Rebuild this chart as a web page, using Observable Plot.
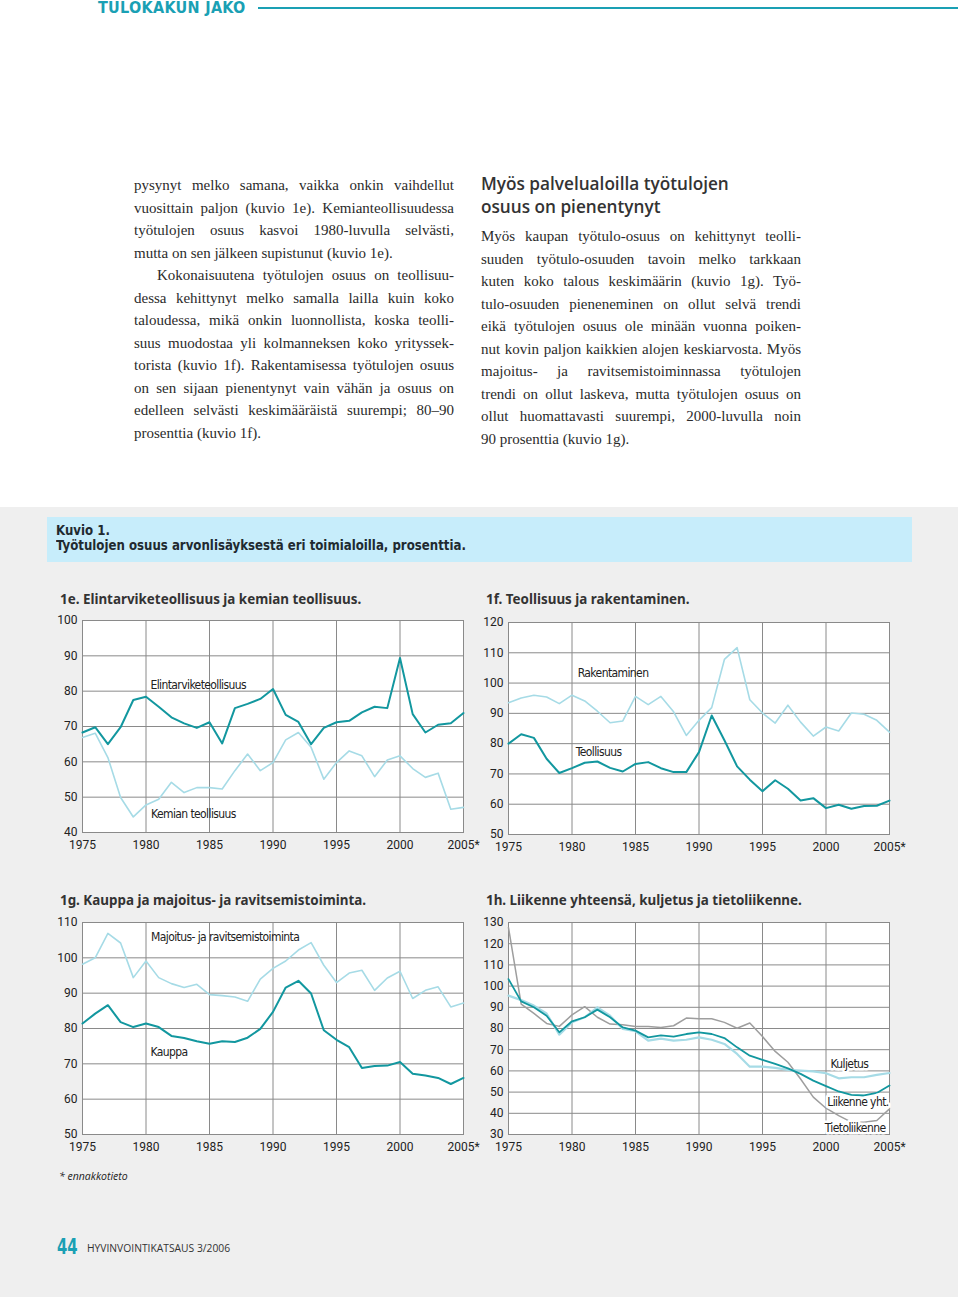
<!DOCTYPE html>
<html>
<head>
<meta charset="utf-8">
<script src="https://cdn.jsdelivr.net/npm/d3@7"></script>
<script src="https://cdn.jsdelivr.net/npm/@observablehq/plot@0.6"></script>
<style>
  html, body { margin: 0; padding: 0; background: #ffffff; }
  body { width: 960px; height: 1297px; position: relative; overflow: hidden; }
  .abs { position: absolute; }
  .cond { font-family: "Liberation Sans Narrow", "DejaVu Sans Condensed", "Roboto Condensed", Roboto, sans-serif; font-stretch: condensed; }
  .serif { font-family: "Liberation Serif", "DejaVu Serif", serif; font-size: 15px; color: #2b2b2b; }
  .ln { position: absolute; width: 320px; height: 22.5px; line-height: 22.5px; white-space: nowrap; }
  .j { text-align: justify; text-align-last: justify; }
  .ctitle { font-family: "Noto Sans", "Open Sans", sans-serif; font-weight: 700; font-size: 13.4px; color: #333; white-space: nowrap; }
  svg g[aria-label="text"] text { letter-spacing: -0.6px; }
</style>
</head>
<body>
<div id="page"></div>
<script>
// ---------- DATA ----------
const years = d3.range(1975, 2006);
const xTicks = [1975, 1980, 1985, 1990, 1995, 2000, 2005];

// 1e
const elintarvike = [68.3,69.8,65.0,69.8,77.5,78.4,75.6,72.6,70.9,69.6,71.2,65.2,75.2,76.4,77.8,80.6,73.3,71.3,65.0,69.6,71.2,71.6,74.0,75.6,75.2,89.4,73.5,68.3,70.5,70.9,73.8];
const kemia = [66.9,68.1,61.2,49.9,44.4,47.8,49.4,54.2,51.3,52.7,52.7,52.3,57.5,62.2,57.5,59.8,66.2,68.3,64.1,55.1,59.8,63.1,61.7,55.8,60.5,61.7,58.1,55.6,56.8,46.6,47.1];
const yTicks1e = [40, 50, 60, 70, 80, 90, 100];

// 1f
const rakentaminen = [93.5,95.1,96.0,95.4,93.2,96.0,94.1,90.7,86.9,87.5,95.6,92.9,95.6,90.5,82.7,87.7,91.9,107.8,111.7,94.5,90.1,86.8,92.7,87.1,82.5,85.5,84.2,90.1,89.7,87.7,83.8];
const teollisuus = [80.0,83.1,81.9,75.0,70.3,71.9,73.7,74.1,72.0,70.8,73.3,73.9,71.9,70.6,70.6,77.2,89.3,81.1,72.5,68.1,64.3,67.9,65.1,61.2,62.0,58.7,59.8,58.5,59.4,59.5,61.2];
const yTicks1f = [50, 60, 70, 80, 90, 100, 110, 120];

// 1g
const majoitus = [98.2,100.0,106.9,104.2,94.4,99.1,94.4,92.7,91.6,92.5,89.6,89.3,88.9,87.7,94.0,97.0,99.1,102.2,104.3,97.9,93.0,95.7,96.5,90.8,94.3,96.2,88.5,90.8,91.8,86.1,87.2];
const kauppa = [81.4,84.2,86.6,81.8,80.4,81.4,80.4,77.9,77.3,76.4,75.7,76.4,76.2,77.4,79.9,84.7,91.6,93.5,89.9,79.5,76.8,74.7,68.8,69.4,69.5,70.5,67.2,66.7,66.0,64.3,66.0];
const yTicks1g = [50, 60, 70, 80, 90, 100, 110];

// 1h
const tietoliikenne = [127.6,91.5,87.1,82.4,81.0,86.4,90.3,85.3,82.1,81.8,80.9,81.0,80.5,81.3,84.9,84.6,84.6,82.9,80.1,82.6,76.2,69.2,64.1,56.2,47.6,42.4,38.9,35.8,35.8,36.6,42.1];
const liikenneYht = [103.3,92.8,90.0,86.0,78.2,83.4,85.3,88.9,85.3,80.5,79.0,75.8,76.8,76.2,77.4,78.2,77.4,75.5,71.1,67.2,65.2,63.3,61.2,58.6,55.4,52.8,50.3,48.7,48.4,49.6,53.1];
const kuljetus = [95.5,93.4,90.8,87.1,77.1,82.9,85.3,90.0,86.0,79.8,78.7,74.3,75.2,74.3,74.7,75.8,74.7,72.7,68.0,62.0,62.0,61.4,60.5,60.1,59.8,58.9,56.5,57.0,57.0,58.1,59.0];
const yTicks1h = [30, 40, 50, 60, 70, 80, 90, 100, 110, 120, 130];

// line labels (anchored in data space)
const labels1e = [{year: 1980.35, value: 81.6, text: "Elintarviketeollisuus"}, {year: 1980.4, value: 45.1, text: "Kemian teollisuus"}];
const labels1f = [{year: 1980.45, value: 103.2, text: "Rakentaminen"}, {year: 1980.3, value: 77.1, text: "Teollisuus"}];
const labels1g = [{year: 1980.4, value: 105.75, text: "Majoitus- ja ravitsemistoiminta"}, {year: 1980.35, value: 73.2, text: "Kauppa"}];
const labels1h = [{year: 2000.35, value: 63.0, text: "Kuljetus"}, {year: 2000.1, value: 45.1, text: "Liikenne yht."}, {year: 1999.9, value: 32.8, text: "Tietoliikenne"}];

const DARK = "#12979f";
const LIGHT = "#a6dbe6";
const GREY = "#9e9e9e";
const GRID = "#8a8a8a";
const condFont = '"Liberation Sans Narrow", "DejaVu Sans Condensed", "Roboto Condensed", Roboto, sans-serif';

function makeChart(series, yDomain, yTicks, labels, haloLabels) {
  const marks = [
    Plot.frame({fill: "white", stroke: null}),
    Plot.gridX(xTicks, {stroke: GRID, strokeOpacity: 1, strokeWidth: 1}),
    Plot.gridY(yTicks, {stroke: GRID, strokeOpacity: 1, strokeWidth: 1}),
    Plot.frame({stroke: GRID, strokeWidth: 1}),
    Plot.axisX(xTicks, {tickSize: 0, tickPadding: 8, fontSize: 12, fill: "#222", fontFamily: "Roboto, sans-serif",
      tickFormat: d => d === 2005 ? "2005*" : String(d), label: null}),
    Plot.axisY(yTicks, {tickSize: 0, tickPadding: 5, fontSize: 12, fill: "#222", fontFamily: "Roboto, sans-serif", label: null})
  ];
  for (const s of series) {
    const rows = s.values.map((v, i) => ({year: years[i], value: v}));
    marks.push(Plot.line(rows, {x: "year", y: "value", stroke: s.color, strokeWidth: s.width, strokeLinejoin: "round"}));
  }
  marks.push(Plot.text(labels, {x: "year", y: "value", text: "text", textAnchor: "start", fontSize: 12,
    fill: "#222", fontFamily: condFont, stroke: haloLabels ? "white" : null, strokeWidth: 5}));
  return Plot.plot({
    width: 435, height: 248,
    marginLeft: 32, marginRight: 22, marginTop: 10, marginBottom: 26,
    style: {background: "transparent", overflow: "visible"},
    x: {domain: [1975, 2005]},
    y: {domain: yDomain},
    marks
  });
}

const page = document.getElementById("page");
function add(html) { page.insertAdjacentHTML("beforeend", html); }

// Header
add(`<div class="abs cond" style="left:98px;top:-2px;font-size:16px;font-weight:700;color:#1aa0b4;letter-spacing:0.3px;">TULOKAKUN JAKO</div>`);
add(`<div class="abs" style="left:258px;top:7px;width:700px;height:2px;background:#1aa0b4;"></div>`);

// Body text - left column
const leftLines = [
  ["pysynyt melko samana, vaikka onkin vaihdellut", true, 0],
  ["vuosittain paljon (kuvio 1e). Kemianteollisuudessa", true, 0],
  ["työtulojen osuus kasvoi 1980-luvulla selvästi,", true, 0],
  ["mutta on sen jälkeen supistunut (kuvio 1e).", false, 0],
  ["Kokonaisuutena työtulojen osuus on teollisuu-", true, 23],
  ["dessa kehittynyt melko samalla lailla kuin koko", true, 0],
  ["taloudessa, mikä onkin luonnollista, koska teolli-", true, 0],
  ["suus muodostaa yli kolmanneksen koko yrityssek-", true, 0],
  ["torista (kuvio 1f). Rakentamisessa työtulojen osuus", true, 0],
  ["on sen sijaan pienentynyt vain vähän ja osuus on", true, 0],
  ["edelleen selvästi keskimääräistä suurempi; 80–90", true, 0],
  ["prosenttia (kuvio 1f).", false, 0]
];
leftLines.forEach(([t, j, ind], i) => {
  add(`<div class="ln serif ${j ? "j" : ""}" style="left:${134 + ind}px;width:${320 - ind}px;top:${174 + i * 22.5}px;">${t}</div>`);
});

// Right column heading
add(`<div class="abs" style="left:481px;top:172px;font-family:'Open Sans','Noto Sans',sans-serif;font-weight:600;font-size:17.2px;line-height:23px;color:#333;">Myös palvelualoilla työtulojen<br>osuus on pienentynyt</div>`);
const rightLines = [
  ["Myös kaupan työtulo-osuus on kehittynyt teolli-", true],
  ["suuden työtulo-osuuden tavoin melko tarkkaan", true],
  ["kuten koko talous keskimäärin (kuvio 1g). Työ-", true],
  ["tulo-osuuden pieneneminen on ollut selvä trendi", true],
  ["eikä työtulojen osuus ole minään vuonna poiken-", true],
  ["nut kovin paljon kaikkien alojen keskiarvosta. Myös", true],
  ["majoitus- ja ravitsemistoiminnassa työtulojen", true],
  ["trendi on ollut laskeva, mutta työtulojen osuus on", true],
  ["ollut huomattavasti suurempi, 2000-luvulla noin", true],
  ["90 prosenttia (kuvio 1g).", false]
];
rightLines.forEach(([t, j], i) => {
  add(`<div class="ln serif ${j ? "j" : ""}" style="left:481px;top:${225 + i * 22.5}px;">${t}</div>`);
});

// Grey figure area
add(`<div class="abs" style="left:0;top:507px;width:958px;height:790px;background:#efefef;"></div>`);
add(`<div class="abs" style="left:47px;top:517px;width:865px;height:45px;background:#c7edfb;"></div>`);
add(`<div class="abs cond" style="left:56px;top:523px;font-size:13.5px;font-weight:700;line-height:15px;color:#1f2a30;transform:scaleX(0.97);transform-origin:left top;">Kuvio 1.<br>Työtulojen osuus arvonlisäyksestä eri toimialoilla, prosenttia.</div>`);

// Chart titles
add(`<div class="abs ctitle" style="left:60px;top:590px;">1e. Elintarviketeollisuus ja kemian teollisuus.</div>`);
add(`<div class="abs ctitle" style="left:486px;top:590px;">1f. Teollisuus ja rakentaminen.</div>`);
add(`<div class="abs ctitle" style="left:60px;top:891px;">1g. Kauppa ja majoitus- ja ravitsemistoiminta.</div>`);
add(`<div class="abs ctitle" style="left:486px;top:891px;">1h. Liikenne yhteensä, kuljetus ja tietoliikenne.</div>`);

function place(svg, left, top) {
  const d = document.createElement("div");
  d.className = "abs";
  d.style.left = left + "px";
  d.style.top = top + "px";
  d.appendChild(svg);
  page.appendChild(d);
}

place(makeChart([
  {values: kemia, color: LIGHT, width: 1.6},
  {values: elintarvike, color: DARK, width: 2}
], [40, 100], yTicks1e, labels1e, false), 50, 610);

place(makeChart([
  {values: rakentaminen, color: LIGHT, width: 1.6},
  {values: teollisuus, color: DARK, width: 2}
], [50, 120], yTicks1f, labels1f, false), 476, 612);

place(makeChart([
  {values: majoitus, color: LIGHT, width: 1.6},
  {values: kauppa, color: DARK, width: 2}
], [50, 110], yTicks1g, labels1g, false), 50, 912);

place(makeChart([
  {values: tietoliikenne, color: GREY, width: 1.5},
  {values: kuljetus, color: LIGHT, width: 2.2},
  {values: liikenneYht, color: DARK, width: 1.8}
], [30, 130], yTicks1h, labels1h, true), 476, 912);

// Footnote and footer
add(`<div class="abs" style="left:59px;top:1169px;font-family:'Open Sans',sans-serif;font-style:italic;font-size:10.5px;color:#222;">* ennakkotieto</div>`);
add(`<div class="abs cond" style="left:57px;top:1234px;font-size:22px;font-weight:700;color:#1aa0b4;transform:scaleX(0.75);transform-origin:left top;">44</div>`);
add(`<div class="abs" style="left:87px;top:1241px;font-family:'Open Sans',sans-serif;font-size:10.3px;color:#333;">HYVINVOINTIKATSAUS 3/2006</div>`);
</script>
</body>
</html>
